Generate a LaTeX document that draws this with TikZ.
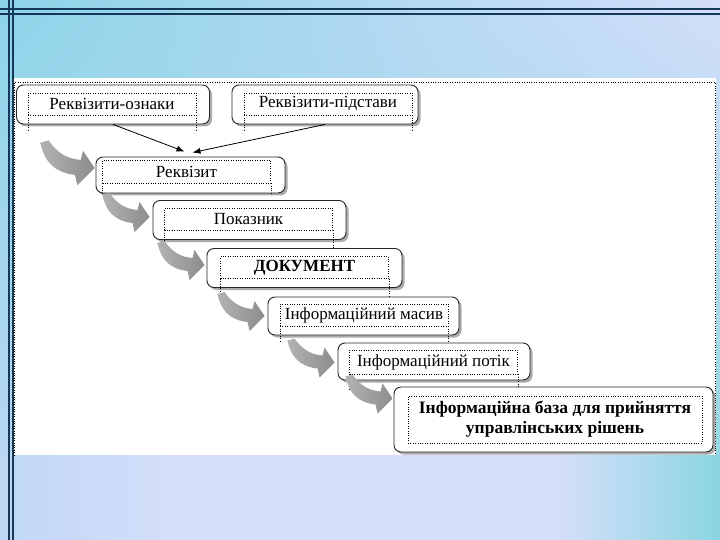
\documentclass[tikz,border=0pt]{standalone}
\usepackage{fontspec}
\setmainfont{Liberation Serif}
\usetikzlibrary{shadings, shadows, arrows.meta}
\definecolor{bgcyan}{RGB}{140,212,232}
\definecolor{bglav}{RGB}{212,222,250}
\definecolor{bgblue}{RGB}{192,216,245}
\definecolor{bgsea}{RGB}{138,214,224}
\definecolor{frameline}{RGB}{22,56,88}
\pgfdeclarehorizontalshading{bottomband}{100bp}{color(0bp)=(bgblue); color(25bp)=(bgblue); color(37bp)=(bglav); color(64bp)=(bglav); color(75bp)=(bgsea); color(100bp)=(bgsea)}
\tikzstyle{box} = [draw=black!85, line width=.9pt, rounded corners=7pt, fill=white, drop shadow={shadow xshift=2.5pt, shadow yshift=-2.5pt, fill=black!55, opacity=.6}]
\tikzstyle{lbl} = [draw, dotted, minimum width=168pt, minimum height=22pt, inner sep=1pt, font=\fontsize{17}{19}\selectfont]
\tikzstyle{ext} = [dotted]
\tikzset{bendarrow/.pic={
	\shade[left color=gray!60, right color=gray!90] (-47,-22) .. controls (-44,-6) and (-35,4) .. (-17,6) -- (-15,15) -- (0,0) -- (-10,-15) -- (-12,-7) .. controls (-25,-8) and (-33,-14) .. (-40,-24) -- cycle;
}}

\begin{document}
\begin{tikzpicture}[x=1pt, y=-1pt]
	\useasboundingbox (0,0) rectangle (720,540);
	% slide background
	\shade[upper left=bgcyan, upper right=bglav, lower left=bgblue, lower right=bgsea] (0,0) rectangle (720,540);
	\shade[shading=bottomband] (0,455) rectangle (720,540);
	\fill[white] (14,78) rectangle (716,455);
	\draw[dotted] (14,455) -- (14,82) -- (715,82) -- (715,455);
	\draw[frameline, line width=1.3pt] (9,0) -- (9,540) (13,0) -- (13,540);
	\draw[frameline, line width=1.3pt] (0,9) -- (720,9) (0,14) -- (720,14);

	% boxes
	\node[box, minimum width=193pt, minimum height=39pt] (ozn) at (113,104.5) {};
	\node[lbl] (ozn-t) at (112,104) {Реквізити-ознаки};
	\draw[ext] (ozn-t.south west) -- ++(0,15) (ozn-t.south east) -- ++(0,15);

	\node[box, minimum width=186pt, minimum height=39pt] (pidst) at (325,104.5) {};
	\node[lbl] (pidst-t) at (328,104) {Реквізити-підстави};
	\draw[ext] (pidst-t.south west) -- ++(0,15) (pidst-t.south east) -- ++(0,15);

	\node[box, minimum width=189pt, minimum height=36pt] (rekv) at (190.5,175) {};
	\node[lbl, minimum height=23pt] (rekv-t) at (186.5,171.5) {Реквізит};
	\draw[ext] (rekv-t.south west) -- ++(0,12) (rekv-t.south east) -- ++(0,12);

	\node[box, minimum width=193pt, minimum height=39pt] (pokaz) at (249.5,220) {};
	\node[lbl] (pokaz-t) at (248.5,219) {Показник};
	\draw[ext] (pokaz-t.south west) -- ++(0,17) (pokaz-t.south east) -- ++(0,17);

	\node[box, minimum width=195pt, minimum height=39pt] (dok) at (304.5,268) {};
	\node[lbl, font=\fontsize{17}{19}\selectfont\bfseries] (dok-t) at (304.5,267.5) {ДОКУМЕНТ};
	\draw[ext] (dok-t.south west) -- ++(0,18) (dok-t.south east) -- ++(0,18);

	\node[box, minimum width=191pt, minimum height=38pt] (masyv) at (363.5,316) {};
	\node[lbl] (masyv-t) at (364,315) {Інформаційний масив};
	\draw[ext] (masyv-t.south west) -- ++(0,16) (masyv-t.south east) -- ++(0,16);

	\node[box, minimum width=192pt, minimum height=37pt] (potik) at (434,361.5) {};
	\node[lbl, minimum height=24pt] (potik-t) at (433.5,362) {Інформаційний потік};
	\draw[ext] (potik-t.south west) -- ++(0,16) (potik-t.south east) -- ++(0,16);

	\node[box, minimum width=319pt, minimum height=65pt] (baza) at (553.5,419.5) {};
	\node[lbl, minimum width=294pt, minimum height=47pt, align=center, font=\fontsize{17.5}{20}\selectfont\bfseries] (baza-t) at (555,419.5) {Інформаційна база для прийняття\\управлінських рішень};

	% straight arrows into Реквізит
	\draw[-{Latex[length=8pt,width=6pt]}, line width=.8pt] (ozn.south) -- ([xshift=-6pt,yshift=5pt]rekv.north);
	\draw[-{Latex[length=8pt,width=6pt]}, line width=.8pt] (pidst.south) -- ([xshift=2pt,yshift=4pt]rekv.north);

	% curved arrows
	\pic[scale=1.15] at ([xshift=-1pt,yshift=7pt]rekv.west) {bendarrow};
	\pic at ([xshift=-3pt,yshift=3pt]pokaz.west) {bendarrow};
	\pic at ([xshift=-2pt,yshift=3pt]dok.west) {bendarrow};
	\pic at ([xshift=-3pt]masyv.west) {bendarrow};
	\pic at ([xshift=-3pt,yshift=-1pt]potik.west) {bendarrow};
	\pic at ([xshift=-1pt,yshift=21pt]baza.west) {bendarrow};
\end{tikzpicture}
\end{document}
